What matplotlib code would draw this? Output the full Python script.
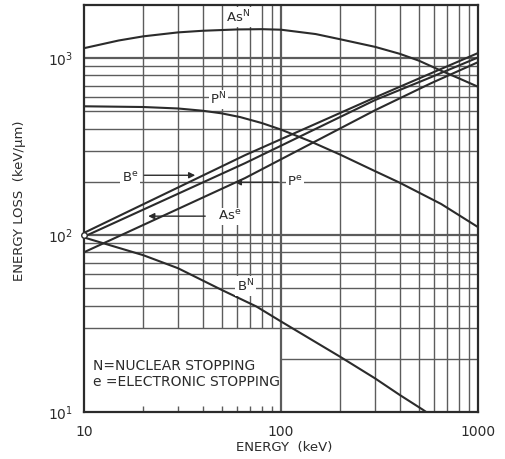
import numpy as np
import matplotlib.pyplot as plt
from matplotlib.ticker import NullFormatter, NullLocator

# nuclear stopping curves (keV, keV/um)
e_as_n = [10, 15, 20, 30, 40, 60, 80, 100, 150, 200, 300, 400, 500, 650, 800, 1000]
s_as_n = [1140, 1260, 1330, 1400, 1430, 1455, 1460, 1450, 1370, 1280, 1160, 1060, 970, 850, 770, 690]

e_p_n = [10, 20, 30, 40, 50, 62, 80, 100, 140, 200, 300, 400, 650, 1000]
s_p_n = [535, 530, 520, 505, 488, 465, 430, 395, 340, 285, 230, 198, 150, 111]

e_b_n = [10, 20, 30, 50, 75, 100, 200, 300, 400, 525, 560]
s_b_n = [97, 77, 65, 49, 39.5, 32.5, 20.5, 15.5, 12.5, 10.3, 9.8]

# electronic stopping curves
e_e = [10, 65.6, 300, 577, 1000]
s_b_e = [103, 283, 600, 822, 1070]
s_p_e = [98, 255, 580, 781, 1010]
s_as_e = [80, 210, 508, 722, 950]

# log paper grid
x_grid = [20, 30, 40, 50, 60, 70, 80, 90, 100, 200, 300, 400, 500, 600, 700, 800, 900]
y_grid = [20, 30, 40, 50, 60, 70, 80, 90, 100, 200, 300, 400, 500, 600, 700, 800, 900, 1000]
box_ticks = [20, 30, 40, 50, 60, 70, 80, 90]

ink = '#2b2b2b'
grid_ink = '#5c5c5c'

fig = plt.figure(figsize=(5.05, 4.59), dpi=100)
ax = fig.add_axes([84/505, 1-412/459, 394/505, 407/459])
ax.set_xscale('log')
ax.set_yscale('log')
ax.set_xlim(10, 1000)
ax.set_ylim(10, 2000)

# grid, left blank where the legend box sits (10-100 keV, 10-30)
for x in x_grid:
    lw = 1.6 if x == 100 else 1.0
    y0 = 30 if x < 100 else 10
    ax.vlines(x, y0, 2000, color=grid_ink, lw=lw, zorder=1)
for y in y_grid:
    lw = 1.6 if y in (100, 1000) else 1.0
    x0 = 100 if y < 30 else 10
    ax.hlines(y, x0, 1000, color=grid_ink, lw=lw, zorder=1)
for x in box_ticks:
    ax.vlines(x, 10, 10.8, color=grid_ink, lw=1.0, zorder=1)

for e, s in [(e_as_n, s_as_n), (e_p_n, s_p_n), (e_b_n, s_b_n),
             (e_e, s_b_e), (e_e, s_p_e), (e_e, s_as_e)]:
    ax.plot(e, s, color=ink, lw=1.5, zorder=3)
ax.plot(10, 100, 'o', mfc='white', mec=ink, ms=4, mew=1, clip_on=False, zorder=5)

lab = dict(fontsize=9.5, color=ink, ha='center', va='center', zorder=4,
           bbox=dict(fc='white', ec='none', pad=1))
ax.text(60.5, 1706, r'As$^{\mathrm{N}}$', **lab)
ax.text(47.9, 586, r'P$^{\mathrm{N}}$', **lab)
ax.text(66, 51.5, r'B$^{\mathrm{N}}$', **lab)
ax.text(17.1, 212, r'B$^{\mathrm{e}}$', **lab)
ax.text(55, 128, r'As$^{\mathrm{e}}$', **lab)
ax.text(118, 199, r'P$^{\mathrm{e}}$', **lab)

arr = dict(arrowstyle='-|>', color=ink, lw=1.0, mutation_scale=9)
ax.annotate('', xy=(37.9, 218), xytext=(19.6, 218), arrowprops=arr, zorder=4)
ax.annotate('', xy=(20.5, 128), xytext=(42.6, 128), arrowprops=arr, zorder=4)
ax.annotate('', xy=(56.4, 199), xytext=(100, 199), arrowprops=arr, zorder=4)

ax.text(11.1, 18.2, 'N=NUCLEAR STOPPING', fontsize=10, color=ink, va='center', ha='left')
ax.text(11.1, 14.8, 'e =ELECTRONIC STOPPING', fontsize=10, color=ink, va='center', ha='left')

ax.set_xticks([10, 100, 1000])
ax.set_xticklabels(['10', '100', '1000'])
ax.set_yticks([10, 100, 1000])
ax.set_yticklabels([r'$10^1$', r'$10^2$', r'$10^3$'])
ax.xaxis.set_minor_locator(NullLocator())
ax.yaxis.set_minor_locator(NullLocator())
ax.xaxis.set_minor_formatter(NullFormatter())
ax.yaxis.set_minor_formatter(NullFormatter())
ax.tick_params(which='both', length=0, labelsize=10, colors=ink)
ax.tick_params(axis='x', pad=9)
ax.tick_params(axis='y', pad=8)
for sp in ax.spines.values():
    sp.set_linewidth(1.6)
    sp.set_color(ink)

fig.text(284/505, 1-447/459, 'ENERGY  (keV)', fontsize=9.5, color=ink, ha='center', va='center')
fig.text(20/505, 1-201/459, 'ENERGY LOSS  (keV/\u03bcm)', fontsize=9.5, color=ink,
         rotation=90, ha='center', va='center')

fig.savefig('out.png', dpi=100)
